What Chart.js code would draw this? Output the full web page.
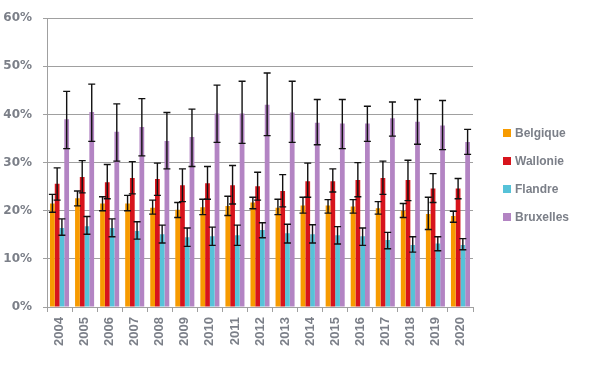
<!DOCTYPE html>
<html>
<head>
<meta charset="utf-8">
<script src="https://cdn.jsdelivr.net/npm/chart.js@4/dist/chart.umd.min.js"></script>
<style>
  html, body { margin: 0; padding: 0; background: #fff; }
  #wrap { width: 600px; height: 380px; }
</style>
</head>
<body>
<div id="wrap"><canvas id="chart" width="600" height="380"></canvas></div>
<script>
const years = ['2004', '2005', '2006', '2007', '2008', '2009', '2010', '2011', '2012',
    '2013', '2014', '2015', '2016', '2017', '2018', '2019', '2020'];

const belgique = [21.5, 22.6, 21.5, 21.5, 20.6, 20.2, 20.7, 21.0, 21.7, 20.6, 21.1, 21.1, 20.9, 20.5, 20.0, 19.3, 18.9];
const belgique_low = [19.7, 21.0, 20.0, 20.0, 19.3, 18.6, 19.2, 19.0, 20.4, 19.2, 19.5, 19.5, 19.5, 19.3, 18.6, 16.1, 17.6];
const belgique_high = [23.4, 24.1, 22.9, 23.2, 22.2, 21.7, 22.4, 23.0, 22.8, 22.4, 22.8, 22.3, 22.3, 21.9, 21.5, 22.8, 19.9];

const wallonie = [25.6, 27.0, 25.9, 26.8, 26.6, 25.3, 25.7, 25.3, 25.1, 24.1, 26.1, 26.1, 26.4, 26.8, 26.4, 24.6, 24.6];
const wallonie_low = [22.2, 23.7, 22.5, 23.5, 23.2, 21.9, 22.4, 21.4, 22.2, 20.8, 22.8, 23.9, 22.9, 23.4, 22.1, 21.7, 22.5];
const wallonie_high = [28.9, 30.4, 29.6, 30.2, 29.9, 28.7, 29.2, 29.4, 28.0, 27.5, 29.9, 28.7, 30.0, 30.3, 30.5, 27.7, 26.7];

const flandre = [16.4, 16.8, 16.4, 15.8, 15.1, 14.5, 14.7, 14.9, 16.0, 15.3, 15.1, 14.9, 14.7, 13.9, 12.9, 13.2, 12.9];
const flandre_low = [14.9, 15.1, 14.6, 14.1, 13.3, 12.6, 12.8, 12.8, 14.4, 13.3, 13.3, 13.1, 12.8, 12.1, 11.4, 11.7, 11.9];
const flandre_high = [18.3, 18.8, 18.3, 17.7, 17.0, 16.4, 16.6, 17.0, 17.5, 17.2, 17.1, 16.7, 16.4, 15.5, 14.6, 14.6, 14.2];

const bruxelles = [39.0, 40.5, 36.4, 37.4, 34.5, 35.3, 40.2, 40.2, 42.0, 40.4, 38.3, 38.1, 38.1, 39.2, 38.5, 37.7, 34.3];
const bruxelles_low = [32.9, 34.4, 30.3, 31.4, 28.7, 29.2, 34.2, 34.0, 35.6, 34.2, 33.7, 32.9, 34.4, 35.5, 33.8, 32.7, 31.7];
const bruxelles_high = [44.8, 46.3, 42.2, 43.3, 40.4, 41.1, 46.1, 46.9, 48.6, 46.9, 43.1, 43.1, 41.7, 42.6, 43.1, 42.9, 36.9];

const textGray = '#7b7f88';
const gridGray = '#a0a0a0';
const fontFamily = '"Liberation Sans", Arial, sans-serif';

// error bars drawn from the low/high arrays through the y scale
const errorBars = {
    id: 'errorBars',
    afterDatasetsDraw(chart) {
        const ctx = chart.ctx;
        const yScale = chart.scales.y;
        ctx.save();
        ctx.strokeStyle = '#111';
        ctx.lineWidth = 1.4;
        chart.data.datasets.forEach((ds, i) => {
            const meta = chart.getDatasetMeta(i);
            meta.data.forEach((bar, j) => {
                const x = bar.x;
                const top = yScale.getPixelForValue(ds.errHigh[j]);
                const bot = yScale.getPixelForValue(ds.errLow[j]);
                ctx.beginPath();
                ctx.moveTo(x, top);
                ctx.lineTo(x, bot);
                ctx.moveTo(x - 3.5, top);
                ctx.lineTo(x + 3.5, top);
                ctx.moveTo(x - 3.5, bot);
                ctx.lineTo(x + 3.5, bot);
                ctx.stroke();
            });
        });
        ctx.restore();
    }
};

// legend on the right side, like the original sheet
const sideLegend = {
    id: 'sideLegend',
    afterDraw(chart) {
        const ctx = chart.ctx;
        ctx.save();
        ctx.font = 'bold 12px ' + fontFamily;
        ctx.textBaseline = 'middle';
        chart.data.datasets.forEach((ds, i) => {
            const y = 133 + i * 28;
            ctx.fillStyle = ds.backgroundColor;
            ctx.fillRect(503, y - 4, 8, 8);
            ctx.fillStyle = textGray;
            ctx.fillText(ds.label, 515, y + 0.5);
        });
        ctx.restore();
    }
};

const chart_data = {
    labels: years,
    datasets: [
        { label: 'Belgique', data: belgique, errLow: belgique_low, errHigh: belgique_high, backgroundColor: '#f79b00' },
        { label: 'Wallonie', data: wallonie, errLow: wallonie_low, errHigh: wallonie_high, backgroundColor: '#d7141c' },
        { label: 'Flandre', data: flandre, errLow: flandre_low, errHigh: flandre_high, backgroundColor: '#56c2d8' },
        { label: 'Bruxelles', data: bruxelles, errLow: bruxelles_low, errHigh: bruxelles_high, backgroundColor: '#b384c3' }
    ]
};

let ctx = document.getElementById('chart').getContext('2d');

let chart = new Chart(ctx, {
    type: 'bar',
    data: chart_data,
    plugins: [errorBars, sideLegend],
    options: {
        responsive: false,
        animation: false,
        layout: { padding: { top: 17, right: 127, left: 0, bottom: 0 } },
        datasets: {
            bar: { categoryPercentage: 0.76, barPercentage: 1.0 }
        },
        plugins: {
            legend: { display: false },
            tooltip: { enabled: false }
        },
        scales: {
            x: {
                grid: {
                    display: true,
                    drawOnChartArea: false,
                    color: gridGray,
                    tickLength: 5,
                    offset: true
                },
                border: { color: gridGray },
                ticks: {
                    color: textGray,
                    font: { family: fontFamily, size: 13, weight: 'bold' },
                    minRotation: 90,
                    maxRotation: 90,
                    padding: 5,
                    autoSkip: false
                },
                afterFit(scale) { scale.height = 73; }
            },
            y: {
                min: 0,
                max: 60,
                grid: { color: gridGray, tickLength: 4 },
                border: { color: gridGray },
                ticks: {
                    stepSize: 10,
                    color: textGray,
                    font: { family: '"DejaVu Sans", sans-serif', size: 12, weight: 'bold' },
                    padding: 11,
                    callback: (v) => v + '%'
                },
                afterFit(scale) { scale.width = 47; }
            }
        }
    }
});
</script>
</body>
</html>
